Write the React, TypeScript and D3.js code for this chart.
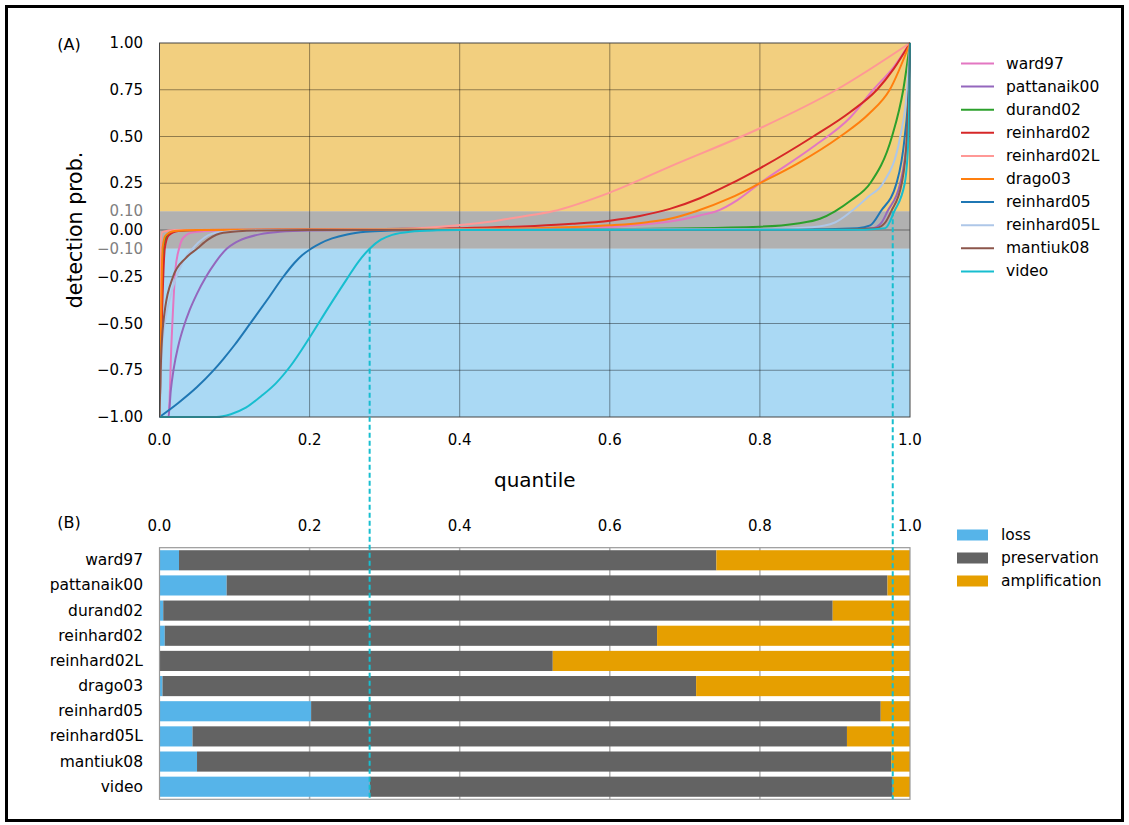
import React, { useEffect, useRef } from "react";
import * as d3 from "d3";

// methods, in drawing order
const methods = [
  "ward97", "pattanaik00", "durand02", "reinhard02", "reinhard02L",
  "drago03", "reinhard05", "reinhard05L", "mantiuk08", "video",
];
const lineColors = [
  "#e377c2", "#9467bd", "#2ca02c", "#d62728", "#ff9896",
  "#ff7f0e", "#1f77b4", "#aec7e8", "#8c564b", "#17becf",
];

// (A) detection probability vs quantile
const ward97 = [[0, -1], [0.012, -1], [0.016, -0.6], [0.021, -0.22], [0.026, -0.1], [0.032, -0.04], [0.045, -0.012], [0.08, -0.003], [0.2, 0], [0.4, 0.002], [0.55, 0.01], [0.62, 0.022], [0.68, 0.045], [0.72, 0.078], [0.742, 0.1], [0.77, 0.16], [0.8, 0.25], [0.871, 0.445], [0.92, 0.6], [0.951, 0.75], [0.978, 0.87], [1, 1]];
const pattanaik00 = [[0, -1], [0.012, -1], [0.015, -0.86], [0.019, -0.74], [0.025, -0.62], [0.032, -0.52], [0.04, -0.43], [0.05, -0.34], [0.062, -0.25], [0.075, -0.17], [0.0895, -0.1], [0.1, -0.07], [0.115, -0.043], [0.135, -0.022], [0.16, -0.01], [0.2, -0.003], [0.3, 0], [0.9, 0.002], [0.95, 0.01], [0.962, 0.04], [0.97, 0.1], [0.987, 0.25], [0.996, 0.5], [1, 1]];
const durand02 = [[0, -1], [0.002, -0.6], [0.005, -0.1], [0.01, -0.03], [0.02, -0.005], [0.05, 0], [0.4, 0.002], [0.6, 0.005], [0.8, 0.018], [0.85, 0.035], [0.88, 0.06], [0.9, 0.1], [0.922, 0.16], [0.947, 0.25], [0.976, 0.5], [0.991, 0.75], [1, 1]];
const reinhard02 = [[0, -1], [0.003, -0.5], [0.007, -0.1], [0.012, -0.03], [0.025, -0.005], [0.06, 0], [0.3, 0.005], [0.4, 0.01], [0.5, 0.022], [0.55, 0.033], [0.6, 0.05], [0.64, 0.075], [0.68, 0.113], [0.72, 0.17], [0.76, 0.245], [0.8, 0.33], [0.871, 0.5], [0.92, 0.63], [0.956, 0.75], [0.978, 0.86], [1, 1]];
const reinhard02L = [[0, -1], [0.001, -0.1], [0.004, -0.01], [0.02, 0], [0.2, 0.002], [0.31, 0.005], [0.374, 0.018], [0.44, 0.044], [0.48, 0.07], [0.524, 0.1], [0.6, 0.2], [0.68, 0.339], [0.8, 0.544], [0.902, 0.75], [1, 1]];
const drago03 = [[0, -1], [0.002, -0.5], [0.004, -0.1], [0.008, -0.03], [0.02, -0.005], [0.05, 0], [0.4, 0.005], [0.5, 0.01], [0.6, 0.025], [0.65, 0.042], [0.68, 0.06], [0.715, 0.1], [0.76, 0.17], [0.8, 0.25], [0.85, 0.355], [0.907, 0.5], [0.945, 0.62], [0.973, 0.75], [1, 1]];
const reinhard05 = [[0, -1], [0.025, -0.925], [0.05, -0.84], [0.071, -0.755], [0.085, -0.69], [0.1, -0.615], [0.12, -0.505], [0.145, -0.365], [0.165, -0.25], [0.18, -0.175], [0.19, -0.135], [0.202, -0.1], [0.215, -0.07], [0.23, -0.045], [0.25, -0.024], [0.275, -0.01], [0.31, -0.003], [0.35, 0], [0.85, 0.002], [0.93, 0.01], [0.947, 0.025], [0.961, 0.1], [0.982, 0.25], [0.993, 0.5], [0.998, 0.75], [1, 1]];
const reinhard05L = [[0, -1], [0.004, -0.6], [0.015, -0.35], [0.03, -0.18], [0.044, -0.1], [0.06, -0.04], [0.08, -0.012], [0.15, 0], [0.8, 0.005], [0.87, 0.015], [0.9, 0.04], [0.922, 0.1], [0.945, 0.18], [0.964, 0.25], [0.987, 0.5], [0.996, 0.75], [1, 1]];
const mantiuk08 = [[0, -1], [0.002, -0.7], [0.005, -0.5], [0.018, -0.25], [0.035, -0.15], [0.05, -0.1], [0.065, -0.05], [0.085, -0.015], [0.13, -0.003], [0.2, 0], [0.9, 0.002], [0.955, 0.01], [0.966, 0.035], [0.975, 0.1], [0.989, 0.25], [0.996, 0.5], [1, 1]];
const video = [[0, -1], [0.076, -1], [0.095, -0.985], [0.115, -0.95], [0.135, -0.89], [0.155, -0.82], [0.174, -0.73], [0.2, -0.575], [0.225, -0.415], [0.25, -0.26], [0.265, -0.17], [0.28, -0.1], [0.295, -0.052], [0.31, -0.026], [0.334, -0.009], [0.37, -0.002], [0.4, 0], [0.94, 0.002], [0.967, 0.01], [0.979, 0.1], [0.993, 0.25], [0.998, 0.5], [1, 1]];
const curves = [ward97, pattanaik00, durand02, reinhard02, reinhard02L, drago03, reinhard05, reinhard05L, mantiuk08, video];

// (B) share of quantiles in each class
const lossShare = [0.026, 0.0895, 0.005, 0.007, 0, 0.004, 0.202, 0.044, 0.05, 0.28];
const amplificationShare = [0.258, 0.03, 0.103, 0.337, 0.476, 0.285, 0.039, 0.084, 0.025, 0.023];
const classes = ["loss", "preservation", "amplification"];
const classColors = ["#56b4e9", "#636363", "#e69f00"];

const yTicksA = [1, 0.75, 0.5, 0.25, 0.1, 0, -0.1, -0.25, -0.5, -0.75, -1];
const xTicks = [0, 0.2, 0.4, 0.6, 0.8, 1];

const font = "DejaVu Sans";
const fmt = (v: number, n: number) => v.toFixed(n).replace("-", "\u2212");

export default function App() {
  const ref = useRef<SVGSVGElement>(null);

  useEffect(() => {
    const svg = d3.select(ref.current);
    svg.selectAll("*").remove();
    svg.attr("font-family", font);

    // outer frame
    svg.append("rect")
      .attr("x", 6.5).attr("y", 6.5)
      .attr("width", 1116).attr("height", 814)
      .attr("fill", "none").attr("stroke", "#000").attr("stroke-width", 3);

    const x = d3.scaleLinear().domain([0, 1]).range([159.5, 910]);
    const yA = d3.scaleLinear().domain([-1, 1]).range([417, 43]);

    // ---- panel A ----
    const bands = [
      { lo: 0.1, hi: 1, c: classColors[2] },
      { lo: -0.1, hi: 0.1, c: classColors[1] },
      { lo: -1, hi: -0.1, c: classColors[0] },
    ];
    svg.append("g").selectAll("rect").data(bands).join("rect")
      .attr("x", x(0)).attr("width", x(1) - x(0))
      .attr("y", (d) => yA(d.hi)).attr("height", (d) => yA(d.lo) - yA(d.hi))
      .attr("fill", (d) => d.c).attr("fill-opacity", 0.5);

    const gridA = svg.append("g").attr("stroke", "#000").attr("stroke-opacity", 0.4).attr("stroke-width", 1);
    gridA.selectAll("line.h").data(yTicksA.filter((t) => Math.abs(t) !== 0.1 && Math.abs(t) !== 1)).join("line")
      .attr("class", "h")
      .attr("x1", x(0)).attr("x2", x(1))
      .attr("y1", (d) => yA(d)).attr("y2", (d) => yA(d));
    gridA.selectAll("line.v").data(xTicks.slice(1, -1)).join("line")
      .attr("class", "v")
      .attr("x1", (d) => x(d)).attr("x2", (d) => x(d))
      .attr("y1", yA(1)).attr("y2", yA(-1));

    svg.append("clipPath").attr("id", "clipA").append("rect")
      .attr("x", x(0)).attr("y", yA(1) - 1).attr("width", x(1) - x(0) + 1).attr("height", yA(-1) - yA(1) + 2);

    const line = d3.line<number[]>()
      .x((d) => x(d[0])).y((d) => yA(d[1]))
      .curve(d3.curveMonotoneX);
    svg.append("g").attr("clip-path", "url(#clipA)")
      .selectAll("path").data(curves).join("path")
      .attr("d", (d) => line(d))
      .attr("fill", "none")
      .attr("stroke", (_, i) => lineColors[i])
      .attr("stroke-width", 2);

    svg.append("rect")
      .attr("x", x(0)).attr("y", yA(1)).attr("width", x(1) - x(0)).attr("height", yA(-1) - yA(1))
      .attr("fill", "none").attr("stroke", "#444").attr("stroke-width", 1);

    svg.append("g").selectAll("text").data(yTicksA).join("text")
      .attr("x", 143).attr("y", (d) => yA(d))
      .attr("text-anchor", "end").attr("dominant-baseline", "central")
      .attr("font-size", 15)
      .attr("fill", (d) => (Math.abs(d) === 0.1 ? "#808080" : "#000"))
      .text((d) => fmt(d, 2));

    svg.append("g").selectAll("text").data(xTicks).join("text")
      .attr("x", (d) => x(d)).attr("y", 440)
      .attr("text-anchor", "middle").attr("dominant-baseline", "central")
      .attr("font-size", 15)
      .text((d) => fmt(d, 1));

    svg.append("text")
      .attr("x", x(0.5)).attr("y", 480)
      .attr("text-anchor", "middle").attr("dominant-baseline", "central")
      .attr("font-size", 20).text("quantile");

    svg.append("text")
      .attr("transform", `translate(75, ${yA(0)}) rotate(-90)`)
      .attr("text-anchor", "middle").attr("dominant-baseline", "central")
      .attr("font-size", 20.5).text("detection prob.");

    svg.append("text").attr("x", 69).attr("y", 44)
      .attr("text-anchor", "middle").attr("dominant-baseline", "central")
      .attr("font-size", 16).text("(A)");

    // legend A
    const legA = svg.append("g").selectAll("g").data(methods).join("g")
      .attr("transform", (_, i) => `translate(961, ${63.5 + i * 23.1})`);
    legA.append("line").attr("x1", 0).attr("x2", 33)
      .attr("stroke", (_, i) => lineColors[i]).attr("stroke-width", 2);
    legA.append("text").attr("x", 45).attr("dominant-baseline", "central")
      .attr("font-size", 15.5).text((d) => d);

    // ---- panel B ----
    const table = methods.map((m, i) => ({
      method: m,
      loss: lossShare[i],
      preservation: 1 - lossShare[i] - amplificationShare[i],
      amplification: amplificationShare[i],
    }));
    const yB = d3.scaleBand().domain(methods).range([547.7, 799.3]).paddingInner(0.2).paddingOuter(0.1);

    svg.append("g").attr("stroke", "#b0b0b0").attr("stroke-width", 1.5)
      .selectAll("line").data(xTicks.slice(1, -1)).join("line")
      .attr("x1", (d) => x(d)).attr("x2", (d) => x(d))
      .attr("y1", 547.7).attr("y2", 799.3);

    const stacked = d3.stack<any>().keys(classes)(table);
    svg.append("g").selectAll("g").data(stacked).join("g")
      .attr("fill", (_, i) => classColors[i])
      .selectAll("rect").data((s) => s).join("rect")
      .attr("x", (d) => x(d[0]))
      .attr("width", (d) => x(d[1]) - x(d[0]))
      .attr("y", (d) => yB(d.data.method)!)
      .attr("height", yB.bandwidth());

    svg.append("rect")
      .attr("x", x(0)).attr("y", 547.7).attr("width", x(1) - x(0)).attr("height", 799.3 - 547.7)
      .attr("fill", "none").attr("stroke", "#999").attr("stroke-width", 1.2);

    svg.append("g").selectAll("text").data(methods).join("text")
      .attr("x", 143).attr("y", (d) => yB(d)! + yB.bandwidth() / 2)
      .attr("text-anchor", "end").attr("dominant-baseline", "central")
      .attr("font-size", 15.5).text((d) => d);

    svg.append("g").selectAll("text").data(xTicks).join("text")
      .attr("x", (d) => x(d)).attr("y", 526)
      .attr("text-anchor", "middle").attr("dominant-baseline", "central")
      .attr("font-size", 15)
      .text((d) => fmt(d, 1));

    svg.append("text").attr("x", 69).attr("y", 522)
      .attr("text-anchor", "middle").attr("dominant-baseline", "central")
      .attr("font-size", 16).text("(B)");

    // legend B
    const legB = svg.append("g").selectAll("g").data(classes).join("g")
      .attr("transform", (_, i) => `translate(957, ${535 + i * 23})`);
    legB.append("rect").attr("x", 0).attr("y", -5.5).attr("width", 31).attr("height", 11)
      .attr("fill", (_, i) => classColors[i]);
    legB.append("text").attr("x", 44).attr("dominant-baseline", "central")
      .attr("font-size", 15.5).text((d) => d);

    // dashed guides for the video thresholds
    const vi = methods.indexOf("video");
    const guides = [
      { q: lossShare[vi], v: -0.1 },
      { q: 1 - amplificationShare[vi], v: 0.1 },
    ];
    svg.append("g").selectAll("line").data(guides).join("line")
      .attr("x1", (d) => x(d.q)).attr("x2", (d) => x(d.q))
      .attr("y1", (d) => yA(d.v)).attr("y2", 799.3)
      .attr("stroke", lineColors[vi]).attr("stroke-width", 2)
      .attr("stroke-dasharray", "5,3");
  }, []);

  return (
    <svg
      ref={ref}
      width={1129}
      height={825}
      style={{ position: "absolute", left: 0, top: 0, background: "#fff" }}
    />
  );
}
